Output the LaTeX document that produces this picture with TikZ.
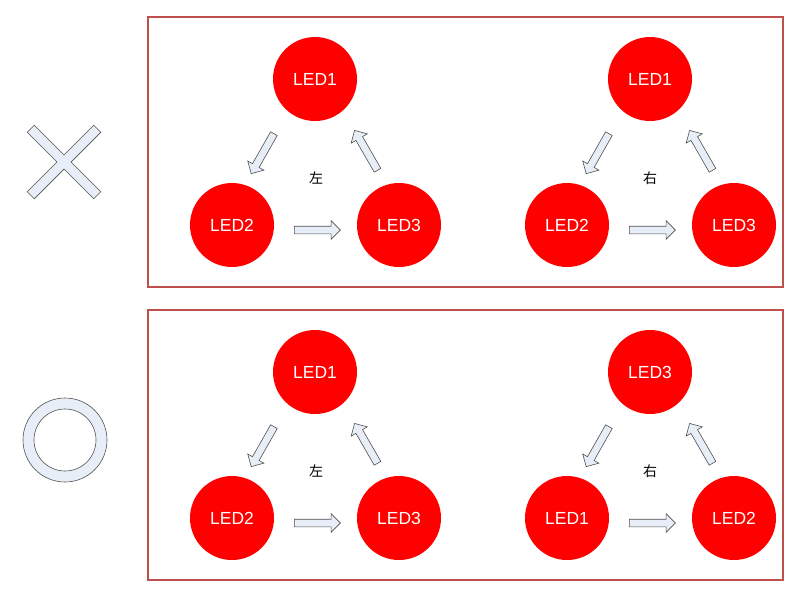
\documentclass[tikz,border=0pt]{standalone}
\usepackage{fontspec}
\setmainfont{Liberation Sans}
\newfontfamily\cjk{Noto Sans CJK JP}
\usetikzlibrary{shapes.arrows,calc}
\definecolor{ledred}{HTML}{FF0000}
\definecolor{framered}{HTML}{C0504D}
\definecolor{paleblue}{HTML}{E8EEF7}
\definecolor{edgegray}{HTML}{505050}

\begin{document}
\begin{tikzpicture}[x=1pt,y=-1pt,
    led/.style={circle, fill=ledred, minimum size=84pt, inner sep=0pt,
        text=white, font=\fontsize{17.5}{20}\selectfont},
    flow/.style={single arrow, draw=edgegray, fill=paleblue, line width=0.6pt,
        minimum height=46pt, minimum width=18pt, inner sep=3.5pt,
        single arrow head extend=5.5pt, single arrow tip angle=90,
        sloped, allow upside down},
    panel/.style={draw=framered, line width=1.3pt},
    sign/.style={draw=edgegray, fill=paleblue, line width=0.6pt},
    dir/.style={font=\cjk\fontsize{14}{16}\selectfont}]
    \useasboundingbox (0,0) rectangle (800,600);

    % frames
    \draw[panel] (148,17) rectangle (783,287);
    \draw[panel] (148,310) rectangle (783,580);

    % cross and circle
    \begin{scope}[shift={(64,162)}, rotate=45]
        \draw[sign] (5,5) -- (47,5) -- (47,-5) -- (5,-5) -- (5,-47) -- (-5,-47)
            -- (-5,-5) -- (-47,-5) -- (-47,5) -- (-5,5) -- (-5,47) -- (5,47) -- cycle;
    \end{scope}
    \draw[sign, even odd rule] (65,440) circle[radius=42] (65,440) circle[radius=31];

    % top left
    \node[led] (a1) at (315,79) {LED1};
    \node[led] (a2) at (232,225) {LED2};
    \node[led] (a3) at (399,225) {LED3};
    \node[dir] (al) at (316,178) {左};
    \path ($(a1)+(-10,0)$) -- node[flow] (a12) {} ($(a2)+(-10,0)$);
    \path ($(a2)+(0,5)$) -- node[flow] (a23) {} ($(a3)+(0,5)$);
    \path ($(a3)+(10,0)$) -- node[flow] (a31) {} ($(a1)+(10,0)$);

    % top right
    \node[led] (b1) at (650,79) {LED1};
    \node[led] (b2) at (567,225) {LED2};
    \node[led] (b3) at (734,225) {LED3};
    \node[dir] (bl) at (650,178) {右};
    \path ($(b1)+(-10,0)$) -- node[flow] (b12) {} ($(b2)+(-10,0)$);
    \path ($(b2)+(0,5)$) -- node[flow] (b23) {} ($(b3)+(0,5)$);
    \path ($(b3)+(10,0)$) -- node[flow] (b31) {} ($(b1)+(10,0)$);

    % bottom left
    \node[led] (c1) at (315,372) {LED1};
    \node[led] (c2) at (232,518) {LED2};
    \node[led] (c3) at (399,518) {LED3};
    \node[dir] (cl) at (316,471) {左};
    \path ($(c1)+(-10,0)$) -- node[flow] (c12) {} ($(c2)+(-10,0)$);
    \path ($(c2)+(0,5)$) -- node[flow] (c23) {} ($(c3)+(0,5)$);
    \path ($(c3)+(10,0)$) -- node[flow] (c31) {} ($(c1)+(10,0)$);

    % bottom right
    \node[led] (d3) at (650,372) {LED3};
    \node[led] (d1) at (567,518) {LED1};
    \node[led] (d2) at (734,518) {LED2};
    \node[dir] (dl) at (650,471) {右};
    \path ($(d3)+(-10,0)$) -- node[flow] (d31) {} ($(d1)+(-10,0)$);
    \path ($(d1)+(0,5)$) -- node[flow] (d12) {} ($(d2)+(0,5)$);
    \path ($(d2)+(10,0)$) -- node[flow] (d23) {} ($(d3)+(10,0)$);
\end{tikzpicture}
\end{document}
